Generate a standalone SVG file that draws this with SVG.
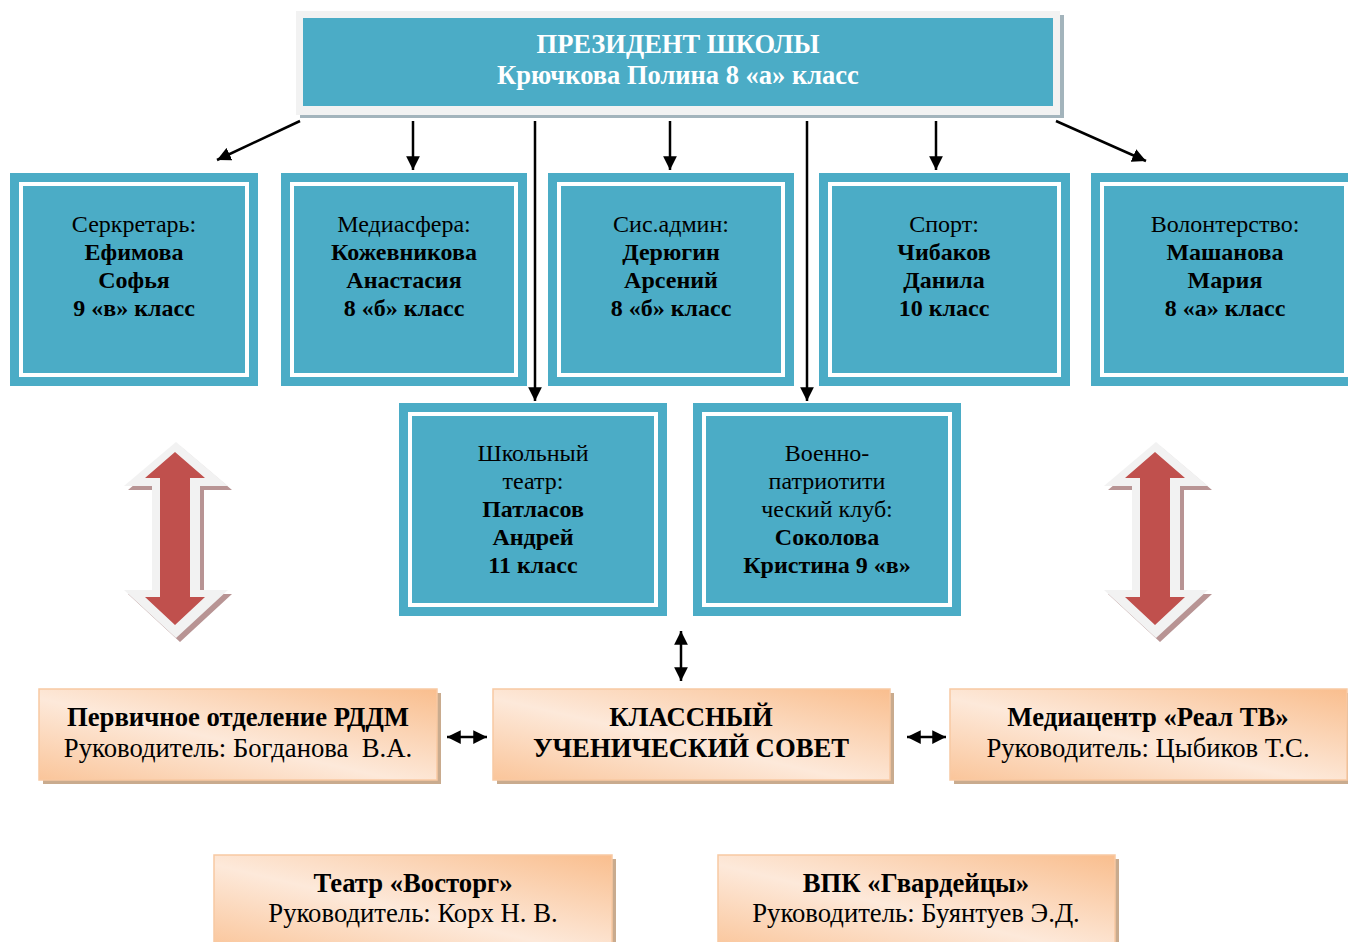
<svg xmlns="http://www.w3.org/2000/svg" width="1348" height="942" viewBox="0 0 1348 942">
<defs>
<style>
.teal{fill:#4BACC6}
.inner{fill:none;stroke:#FFFFFF;stroke-width:4}
.t{font-family:"Liberation Serif","Times New Roman",serif;font-size:24px;fill:#000;text-anchor:middle}
.bt{font-family:"Liberation Serif","Times New Roman",serif;font-size:26.7px;fill:#000;text-anchor:middle}
.b{font-weight:bold}
.pt{font-family:"Liberation Serif","Times New Roman",serif;font-size:26.5px;font-weight:bold;fill:#FFFFFF;text-anchor:middle}
.peach{fill:url(#peach);stroke:#F8C9A2;stroke-width:1.5}
.pshadow{fill:#C9AB8E}
.conn{stroke:#000;stroke-width:2.5;fill:none}
.big{fill:#F2F2F2}
.bigsh{fill:#B89494}
.red{fill:#C0504D}
</style>
<linearGradient id="peach" x1="0" y1="1" x2="1" y2="0">
<stop offset="0" stop-color="#FAC59A"/>
<stop offset="0.45" stop-color="#FDE9DA"/>
<stop offset="1" stop-color="#F9BE8E"/>
</linearGradient>
<marker id="ah" viewBox="0 0 10 10" refX="10" refY="5" markerWidth="5.5" markerHeight="5.5" markerUnits="strokeWidth" orient="auto-start-reverse">
<path d="M0,0 L10,5 L0,10 z" fill="#000"/>
</marker>
<path id="bigarrow" d="M0,0 L52,44 L24,44 L24,148 L52,148 L0,196 L-52,148 L-24,148 L-24,44 L-52,44 z"/>
<path id="redarrow" d="M0,10 L30,36 L15,36 L15,155 L30,155 L0,183 L-30,155 L-15,155 L-15,36 L-30,36 z"/>
</defs>

<g id="president">
<rect x="300" y="15" width="764" height="103" fill="#A3B4BC"/>
<rect x="296" y="11" width="764" height="104" fill="#F2F2F2"/>
<rect x="303" y="18" width="750" height="88" class="teal"/>
<text class="pt" x="678" y="53">ПРЕЗИДЕНТ ШКОЛЫ</text>
<text class="pt" x="678" y="84">Крючкова Полина 8 «а» класс</text>
</g>

<g id="secretary">
<rect x="10" y="173" width="248" height="213" class="teal"/>
<rect x="21" y="184" width="226" height="191" class="inner"/>
<text class="t" x="134" y="232">Серкретарь:</text>
<text class="t b" x="134" y="260">Ефимова</text>
<text class="t b" x="134" y="288">Софья</text>
<text class="t b" x="134" y="316">9 «в» класс</text>
</g>

<g id="media">
<rect x="281" y="173" width="246" height="213" class="teal"/>
<rect x="292" y="184" width="224" height="191" class="inner"/>
<text class="t" x="404" y="232">Медиасфера:</text>
<text class="t b" x="404" y="260">Кожевникова</text>
<text class="t b" x="404" y="288">Анастасия</text>
<text class="t b" x="404" y="316">8 «б» класс</text>
</g>

<g id="sysadmin">
<rect x="548" y="173" width="246" height="213" class="teal"/>
<rect x="559" y="184" width="224" height="191" class="inner"/>
<text class="t" x="671" y="232">Сис.админ:</text>
<text class="t b" x="671" y="260">Дерюгин</text>
<text class="t b" x="671" y="288">Арсений</text>
<text class="t b" x="671" y="316">8 «б» класс</text>
</g>

<g id="sport">
<rect x="819" y="173" width="251" height="213" class="teal"/>
<rect x="830" y="184" width="229" height="191" class="inner"/>
<text class="t" x="944" y="232">Спорт:</text>
<text class="t b" x="944" y="260">Чибаков</text>
<text class="t b" x="944" y="288">Данила</text>
<text class="t b" x="944" y="316">10 класс</text>
</g>

<g id="volunteer">
<rect x="1091" y="173" width="268" height="213" class="teal"/>
<rect x="1102" y="184" width="244" height="191" class="inner"/>
<text class="t" x="1225" y="232">Волонтерство:</text>
<text class="t b" x="1225" y="260">Машанова</text>
<text class="t b" x="1225" y="288">Мария</text>
<text class="t b" x="1225" y="316">8 «а» класс</text>
</g>

<g id="theatre">
<rect x="399" y="403" width="268" height="213" class="teal"/>
<rect x="410" y="414" width="246" height="191" class="inner"/>
<text class="t" x="533" y="461">Школьный</text>
<text class="t" x="533" y="489">театр:</text>
<text class="t b" x="533" y="517">Патласов</text>
<text class="t b" x="533" y="545">Андрей</text>
<text class="t b" x="533" y="573">11 класс</text>
</g>

<g id="military">
<rect x="693" y="403" width="268" height="213" class="teal"/>
<rect x="704" y="414" width="246" height="191" class="inner"/>
<text class="t" x="827" y="461">Военно-</text>
<text class="t" x="827" y="489">патриотити</text>
<text class="t" x="827" y="517">ческий клуб:</text>
<text class="t b" x="827" y="545">Соколова</text>
<text class="t b" x="827" y="573">Кристина 9 «в»</text>
</g>

<g id="big-arrow-left">
<use href="#bigarrow" x="180" y="446" class="bigsh"/>
<use href="#bigarrow" x="176" y="442" class="big"/>
<use href="#redarrow" x="175" y="442" class="red"/>
</g>

<g id="big-arrow-right">
<use href="#bigarrow" x="1160" y="446" class="bigsh"/>
<use href="#bigarrow" x="1156" y="442" class="big"/>
<use href="#redarrow" x="1155" y="442" class="red"/>
</g>

<g id="rddm">
<rect x="43" y="693" width="398" height="91" class="pshadow"/>
<rect x="39" y="689" width="398" height="91" class="peach"/>
<text class="bt b" x="238" y="726">Первичное отделение РДДМ</text>
<text class="bt" x="238" y="757" xml:space="preserve">Руководитель: Богданова  В.А.</text>
</g>

<g id="council">
<rect x="497" y="693" width="397" height="91" class="pshadow"/>
<rect x="493" y="689" width="397" height="91" class="peach"/>
<text class="bt b" x="691" y="726">КЛАССНЫЙ</text>
<text class="bt b" x="691" y="757">УЧЕНИЧЕСКИЙ СОВЕТ</text>
</g>

<g id="mediacenter">
<rect x="954" y="693" width="397" height="91" class="pshadow"/>
<rect x="950" y="689" width="397" height="91" class="peach"/>
<text class="bt b" x="1148" y="726">Медиацентр «Реал ТВ»</text>
<text class="bt" x="1148" y="757">Руководитель: Цыбиков Т.С.</text>
</g>

<g id="vostorg">
<rect x="218" y="859" width="398" height="95" class="pshadow"/>
<rect x="214" y="855" width="398" height="95" class="peach"/>
<text class="bt b" x="413" y="892">Театр «Восторг»</text>
<text class="bt" x="413" y="922">Руководитель: Корх Н. В.</text>
</g>

<g id="gvardeitsy">
<rect x="722" y="859" width="397" height="95" class="pshadow"/>
<rect x="718" y="855" width="397" height="95" class="peach"/>
<text class="bt b" x="916" y="892">ВПК «Гвардейцы»</text>
<text class="bt" x="916" y="922">Руководитель: Буянтуев Э.Д.</text>
</g>

<g id="connectors">
<line class="conn" x1="300" y1="121" x2="217" y2="160" marker-end="url(#ah)"/>
<line class="conn" x1="413" y1="121" x2="413" y2="170" marker-end="url(#ah)"/>
<line class="conn" x1="535" y1="121" x2="535" y2="401" marker-end="url(#ah)"/>
<line class="conn" x1="670" y1="121" x2="670" y2="170" marker-end="url(#ah)"/>
<line class="conn" x1="807" y1="121" x2="807" y2="401" marker-end="url(#ah)"/>
<line class="conn" x1="936" y1="121" x2="936" y2="170" marker-end="url(#ah)"/>
<line class="conn" x1="1056" y1="121" x2="1146" y2="161" marker-end="url(#ah)"/>
<line class="conn" x1="681" y1="631" x2="681" y2="681" marker-start="url(#ah)" marker-end="url(#ah)"/>
<line class="conn" x1="447" y1="737" x2="487" y2="737" marker-start="url(#ah)" marker-end="url(#ah)"/>
<line class="conn" x1="907" y1="737" x2="946" y2="737" marker-start="url(#ah)" marker-end="url(#ah)"/>
</g>
</svg>
